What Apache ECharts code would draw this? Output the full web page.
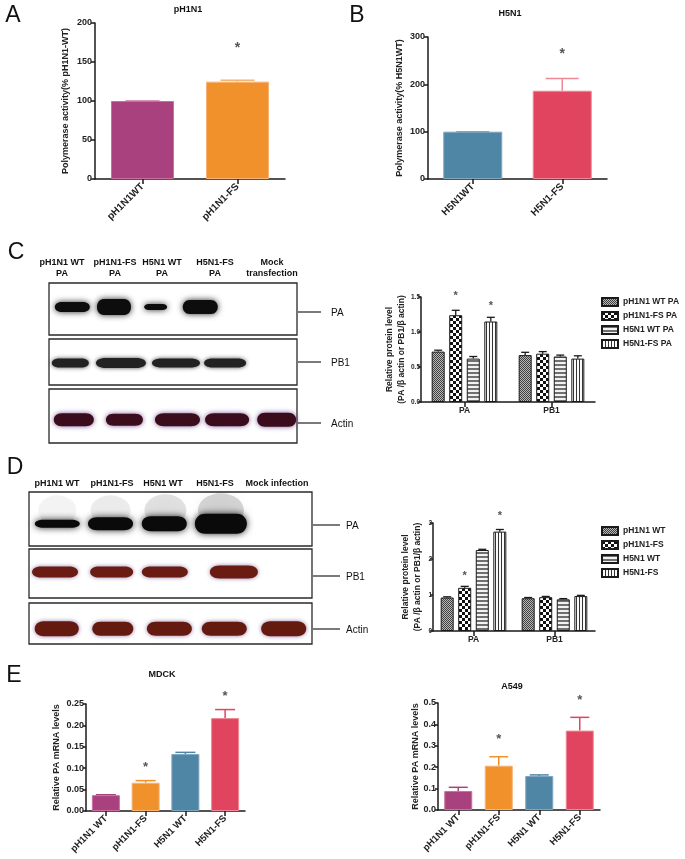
<!DOCTYPE html>
<html><head><meta charset="utf-8">
<script src="https://cdn.jsdelivr.net/npm/echarts@6/dist/echarts.min.js"></script>
<style>html,body{margin:0;padding:0;background:#fff}#c{width:685px;height:859px}</style>
</head><body><div id="c"></div><script>
// ================= DATA =================
// Panel A
const catsA = ['pH1N1WT', 'pH1N1-FS'];
const valsA = [100, 124.8];
const errA = [100, 126.5];
const starA = [null, 172];
const ticksA = [0, 50, 100, 150, 200];
// Panel B
const catsB = ['H5N1WT', 'H5N1-FS'];
const valsB = [100, 186.5];
const errB = [100, 212.5];
const starB = [null, 272];
const ticksB = [0, 100, 200, 300];
// Panel C (densitometry)
const groupCats = ['PA', 'PB1'];
const namesC = ['pH1N1 WT PA', 'pH1N1-FS PA', 'H5N1 WT PA', 'H5N1-FS PA'];
const valsC = [[0.72, 0.67], [1.24, 0.69], [0.62, 0.65], [1.15, 0.62]];
const errC = [[0.74, 0.71], [1.31, 0.72], [0.65, 0.67], [1.21, 0.66]];
const starC = [[null, null], [1.56, null], [null, null], [1.41, null]];
const ticksC = [0, 0.5, 1.0, 1.5];
// Panel D (densitometry)
const namesD = ['pH1N1 WT', 'pH1N1-FS', 'H5N1 WT', 'H5N1-FS'];
const valsD = [[0.93, 0.91], [1.20, 0.94], [2.25, 0.88], [2.76, 0.97]];
const errD = [[0.95, 0.93], [1.24, 0.96], [2.27, 0.90], [2.82, 0.99]];
const starD = [[null, null], [1.61, null], [null, null], [3.28, null]];
const ticksD = [0, 1, 2, 3];
// Panel E
const catsE = ['pH1N1 WT', 'pH1N1-FS', 'H5N1 WT', 'H5N1-FS'];
const valsMDCK = [0.037, 0.066, 0.133, 0.217];
const errMDCK = [0.038, 0.071, 0.137, 0.237];
const starMDCK = [null, 0.110, null, 0.276];
const ticksMDCK = [0, 0.05, 0.10, 0.15, 0.20, 0.25];
const valsA549 = [0.089, 0.207, 0.159, 0.371];
const errA549 = [0.106, 0.249, 0.164, 0.433];
const starA549 = [null, 0.346, null, 0.528];
const ticksA549 = [0, 0.1, 0.2, 0.3, 0.4, 0.5];
// Western blots: lane headers, row names, bands [lane position, band width, band thickness]
const lanesC = [['pH1N1 WT', 'PA'], ['pH1N1-FS', 'PA'], ['H5N1 WT', 'PA'], ['H5N1-FS', 'PA'], ['Mock', 'transfection']];
const lanesD = ['pH1N1 WT', 'pH1N1-FS', 'H5N1 WT', 'H5N1-FS', 'Mock infection'];
const rowsBlot = ['PA', 'PB1', 'Actin'];
const bandsC_PA = [[0.47, 35, 10], [1.31, 34, 16], [2.15, 23, 6], [3.05, 35, 14]];
const bandsC_PB1 = [[0.43, 37, 9], [1.45, 50, 10], [2.56, 48, 9], [3.55, 42, 9]];
const bandsC_Actin = [[0.50, 40, 13], [1.52, 37, 12], [2.59, 45, 13], [3.59, 44, 13], [4.59, 39, 14]];
const bandsD_PA = [[0.50, 45, 8], [1.44, 45, 13], [2.39, 45, 15], [3.39, 52, 20]];
const smearD_PA = [[0.50, 38, 30, 0.07], [1.44, 40, 30, 0.10], [2.41, 42, 32, 0.16], [3.39, 46, 34, 0.22]];
const bandsD_PB1 = [[0.46, 46, 11], [1.46, 43, 11], [2.40, 46, 11], [3.62, 48, 13]];
const bandsD_Actin = [[0.49, 44, 15], [1.48, 41, 14], [2.48, 45, 14], [3.45, 45, 14], [4.50, 45, 15]];

// ================= STYLE =================
const F = '"Liberation Sans", Arial, Helvetica, sans-serif';
const INK = '#1a1a1a';
const PURPLE = '#A8417E', ORANGE = '#F0912C', BLUE = '#4F86A6', RED = '#E1445E';
const PURPLE_L = '#C8709E', ORANGE_L = '#F6B374', BLUE_L = '#7FA6BE', RED_L = '#EE8796';

function makePattern(kind) {
  const c = document.createElement('canvas');
  let ctx;
  if (kind === 'fine') {
    c.width = c.height = 2; ctx = c.getContext('2d');
    ctx.fillStyle = '#b8b8b8'; ctx.fillRect(0, 0, 2, 2);
    ctx.fillStyle = '#404040'; ctx.fillRect(0, 0, 1, 1); ctx.fillRect(1, 1, 1, 1);
  } else if (kind === 'checker') {
    c.width = c.height = 6; ctx = c.getContext('2d');
    ctx.fillStyle = '#ffffff'; ctx.fillRect(0, 0, 6, 6);
    ctx.fillStyle = '#111111'; ctx.fillRect(0, 0, 3, 3); ctx.fillRect(3, 3, 3, 3);
  } else if (kind === 'h') {
    c.width = 1; c.height = 4; ctx = c.getContext('2d');
    ctx.fillStyle = '#f2f2f2'; ctx.fillRect(0, 0, 1, 4);
    ctx.fillStyle = '#707070'; ctx.fillRect(0, 0, 1, 2);
  } else {
    c.width = 3; c.height = 1; ctx = c.getContext('2d');
    ctx.fillStyle = '#fafafa'; ctx.fillRect(0, 0, 3, 1);
    ctx.fillStyle = '#333333'; ctx.fillRect(0, 0, 1, 1);
  }
  return { image: c, repeat: 'repeat' };
}
const PATS = [makePattern('fine'), makePattern('checker'), makePattern('h'), makePattern('v')];

function gridBox(l, t, w, h, extra) {
  return Object.assign({ left: l, top: t, width: w, height: h, containLabel: false, outerBoundsMode: 'none' }, extra || {});
}
const axisLine = { show: true, lineStyle: { color: INK, width: 1.5 } };
function yAx(gi, ticks, digits, name, nameGap, fs, nfs, nameLH, tickLen, margin) {
  return {
    type: 'value', gridIndex: gi, min: ticks[0], max: ticks[ticks.length - 1], interval: ticks[1] - ticks[0],
    axisLine, axisTick: { show: true, length: tickLen || 4, lineStyle: { color: INK, width: 1.5 } },
    splitLine: { show: false },
    axisLabel: { fontFamily: F, fontWeight: 'bold', fontSize: fs, color: '#222', margin: margin == null ? 3 : margin, formatter: v => v.toFixed(digits) },
    name, nameLocation: 'middle', nameRotate: 90, nameGap, nameMoveOverlap: false,
    nameTextStyle: { fontFamily: F, fontWeight: 'bold', fontSize: nfs, color: '#222', lineHeight: nameLH || nfs + 2 }
  };
}
function xCat(gi, cats, rotate, fs, margin) {
  return {
    type: 'category', gridIndex: gi, data: cats, axisLine,
    axisTick: { show: true, alignWithLabel: true, length: 5, lineStyle: { color: INK, width: 1.5 } },
    axisLabel: { rotate, interval: 0, fontFamily: F, fontWeight: 'bold', fontSize: fs, color: '#222', margin }
  };
}
function hiddenX(gi) { return { type: 'value', gridIndex: gi, min: 0, max: 5, show: false }; }
function hiddenY(gi) { return { type: 'value', gridIndex: gi, min: 0, max: 1, show: false }; }

function simpleBars(ax, vals, colors, borders, bw) {
  return {
    type: 'bar', xAxisIndex: ax, yAxisIndex: ax, barWidth: bw, silent: true,
    data: vals.map((v, i) => ({ value: v, itemStyle: { color: colors[i], borderColor: borders[i], borderWidth: 1 } }))
  };
}
function simpleErr(ax, vals, errs, colors, capW) {
  return {
    type: 'custom', xAxisIndex: ax, yAxisIndex: ax, clip: false, silent: true,
    encode: { x: 0, y: [1, 2] },
    data: vals.map((v, i) => ({ value: [i, v, errs[i]], itemStyle: { color: colors[i] } })),
    renderItem: (p, api) => {
      const b = api.coord([api.value(0), api.value(1)]), t = api.coord([api.value(0), api.value(2)]);
      const c = api.visual('color');
      return { type: 'group', children: [
        { type: 'line', shape: { x1: b[0], y1: b[1], x2: t[0], y2: t[1] }, style: { stroke: c, lineWidth: 1.5 } },
        { type: 'line', shape: { x1: t[0] - capW / 2, y1: t[1], x2: t[0] + capW / 2, y2: t[1] }, style: { stroke: c, lineWidth: 1.5 } }
      ] };
    }
  };
}
function starText(x, y, fs) {
  return { type: 'text', x, y: y + fs * 0.25, style: { text: '*', fill: '#555', font: 'bold ' + fs + 'px ' + F, textAlign: 'center', textVerticalAlign: 'middle' } };
}
function simpleStars(ax, stars, fs) {
  return {
    type: 'custom', xAxisIndex: ax, yAxisIndex: ax, clip: false, silent: true, encode: { x: 0, y: 1 },
    data: stars.map((s, i) => [i, s]).filter(d => d[1] != null),
    renderItem: (p, api) => { const c = api.coord([api.value(0), api.value(1)]); return starText(c[0], c[1], fs); }
  };
}
const GBW = 13, GGAP = '35%';
function groupBars(ax, names, vals) {
  return names.map((n, k) => ({
    type: 'bar', name: n, xAxisIndex: ax, yAxisIndex: ax, barWidth: GBW, barGap: GGAP, silent: true,
    data: vals[k], itemStyle: { color: PATS[k], borderColor: INK, borderWidth: 1 }
  }));
}
function groupErr(ax, vals, errs) {
  const data = [];
  vals.forEach((row, k) => row.forEach((v, c) => data.push([c, k, v, errs[k][c]])));
  return {
    type: 'custom', xAxisIndex: ax, yAxisIndex: ax, clip: false, silent: true, encode: { x: 0, y: [2, 3] }, data,
    renderItem: (p, api) => {
      const lay = api.barLayout({ count: 4, barWidth: GBW, barGap: GGAP });
      const off = lay[api.value(1)].offsetCenter;
      const b = api.coord([api.value(0), api.value(2)]), t = api.coord([api.value(0), api.value(3)]);
      const x = b[0] + off;
      return { type: 'group', children: [
        { type: 'line', shape: { x1: x, y1: b[1], x2: x, y2: t[1] }, style: { stroke: INK, lineWidth: 1.3 } },
        { type: 'line', shape: { x1: x - 4, y1: t[1], x2: x + 4, y2: t[1] }, style: { stroke: INK, lineWidth: 1.3 } }
      ] };
    }
  };
}
function groupStars(ax, stars) {
  const data = [];
  stars.forEach((row, k) => row.forEach((s, c) => { if (s != null) data.push([c, k, s]); }));
  return {
    type: 'custom', xAxisIndex: ax, yAxisIndex: ax, clip: false, silent: true, encode: { x: 0, y: 2 }, data,
    renderItem: (p, api) => {
      const lay = api.barLayout({ count: 4, barWidth: GBW, barGap: GGAP });
      const c = api.coord([api.value(0), api.value(2)]);
      return starText(c[0] + lay[api.value(1)].offsetCenter, c[1], 11);
    }
  };
}
const CAPSULE = 'path://M20,0L80,0C107,0 107,40 80,40L20,40C-7,40 -7,0 20,0Z';
function bandSeries(ax, bands, yLevel, color, glow, blur) {
  return {
    type: 'scatter', xAxisIndex: ax, yAxisIndex: ax, symbol: CAPSULE, silent: true,
    data: bands.map(b => [b[0], yLevel, b[1], b[2]]),
    symbolSize: v => [v[2], v[3]],
    itemStyle: { color, shadowBlur: blur, shadowColor: glow, opacity: 1 }
  };
}
function smearSeries(ax, bands, yLevel) {
  return {
    type: 'scatter', xAxisIndex: ax, yAxisIndex: ax, symbol: 'circle', silent: true,
    data: bands.map(b => ({ value: [b[0], yLevel, b[1], b[2]], itemStyle: { color: 'rgba(30,30,30,' + b[3] + ')', shadowColor: 'rgba(30,30,30,' + b[3] + ')' } })),
    symbolSize: v => [v[2], v[3]],
    itemStyle: { shadowBlur: 16 }
  };
}

// ================= LAYOUT =================
const blotBorder = { show: true, borderColor: '#2a2a2a', borderWidth: 1.3, backgroundColor: '#fff' };
const grids = [
  gridBox(95, 23, 190, 156),            // 0 A
  gridBox(428, 37, 179, 142),           // 1 B
  gridBox(421, 297, 174, 105),          // 2 C chart
  gridBox(433, 523, 162, 108),          // 3 D chart
  gridBox(86, 704, 159, 107),           // 4 MDCK
  gridBox(438, 703, 162, 107),          // 5 A549
  gridBox(49, 283, 248, 52, blotBorder),   // 6 C PA
  gridBox(49, 339, 248, 46, blotBorder),   // 7 C PB1
  gridBox(49, 389, 248, 54, blotBorder),   // 8 C Actin
  gridBox(29, 492, 283, 54, blotBorder),   // 9 D PA
  gridBox(29, 549, 283, 49, blotBorder),   // 10 D PB1
  gridBox(29, 603, 283, 41, blotBorder)    // 11 D Actin
];
const xAxes = [
  xCat(0, catsA, 45, 10, 6),
  xCat(1, catsB, 45, 10, 6),
  xCat(2, groupCats, 0, 8.5, 4),
  xCat(3, groupCats, 0, 8.5, 4),
  xCat(4, catsE, 45, 9.5, 6),
  xCat(5, catsE, 45, 9.5, 6)
];
const yAxes = [
  yAx(0, ticksA, 0, 'Polymerase activity(% pH1N1-WT)', 24, 9, 9),
  yAx(1, ticksB, 0, 'Polymerase activity(% H5N1WT)', 23, 9, 9),
  yAx(2, ticksC, 1, 'Relative protein level\n(PA /β actin or PB1/β actin)', 13, 6.5, 8.5, 12, 3, 1),
  yAx(3, ticksD, 0, 'Relative protein level\n(PA /β actin or PB1/β actin)', 9, 6.5, 8.5, 12, 3, 1),
  yAx(4, ticksMDCK, 2, 'Relative PA mRNA levels', 24, 9, 9, null, 3, 2),
  yAx(5, ticksA549, 1, 'Relative PA mRNA levels', 17, 9, 9, null, 3, 2)
];
for (let g = 6; g < 12; g++) { xAxes.push(hiddenX(g)); yAxes.push(hiddenY(g)); }

const colsE = [PURPLE, ORANGE, BLUE, RED];
const bordE = [PURPLE_L, ORANGE_L, BLUE_L, RED_L];
const series = [
  simpleBars(0, valsA, [PURPLE, ORANGE], [PURPLE_L, ORANGE_L], 63),
  simpleErr(0, valsA, errA, [PURPLE_L, ORANGE_L], 34),
  simpleStars(0, starA, 14),
  simpleBars(1, valsB, [BLUE, RED], [BLUE_L, RED_L], 59),
  simpleErr(1, valsB, errB, [BLUE_L, RED_L], 33),
  simpleStars(1, starB, 14),
  ...groupBars(2, namesC, valsC),
  groupErr(2, valsC, errC),
  groupStars(2, starC),
  ...groupBars(3, namesD, valsD),
  groupErr(3, valsD, errD),
  groupStars(3, starD),
  simpleBars(4, valsMDCK, colsE, bordE, 28),
  simpleErr(4, valsMDCK, errMDCK, colsE, 20),
  simpleStars(4, starMDCK, 13),
  simpleBars(5, valsA549, colsE, bordE, 28),
  simpleErr(5, valsA549, errA549, colsE, 19),
  simpleStars(5, starA549, 13),
  bandSeries(6, bandsC_PA, 0.54, '#0d0d0d', 'rgba(0,0,0,0.85)', 6),
  bandSeries(7, bandsC_PB1, 0.48, '#222222', 'rgba(30,30,30,0.8)', 4),
  bandSeries(8, bandsC_Actin, 0.43, '#3a0c1c', 'rgba(110,70,140,0.9)', 5),
  smearSeries(9, smearD_PA, 0.66),
  bandSeries(9, bandsD_PA, 0.41, '#0a0a0a', 'rgba(0,0,0,0.85)', 7),
  bandSeries(10, bandsD_PB1, 0.53, '#6a1c12', 'rgba(120,90,150,0.8)', 4),
  bandSeries(11, bandsD_Actin, 0.37, '#651a10', 'rgba(120,80,140,0.8)', 4)
];

// ================= TEXT / ANNOTATIONS =================
function txt(x, y, text, font, align) {
  return { type: 'text', x, y, silent: true, style: { text, font, fill: '#111', textAlign: align || 'center', textVerticalAlign: 'middle' } };
}
function hline(x1, x2, y) {
  return { type: 'line', silent: true, shape: { x1, y1: y, x2, y2: y }, style: { stroke: '#222', lineWidth: 1.2 } };
}
const letterFont = '23px ' + F;
const titleFont = 'bold 9px ' + F;
const headFont = 'bold 9px ' + F;
const rowFont = '10px ' + F;
const graphic = [
  txt(13, 16, 'A', letterFont), txt(357, 16, 'B', letterFont), txt(16, 253, 'C', letterFont),
  txt(15, 468, 'D', letterFont), txt(14, 676, 'E', letterFont),
  txt(188, 10, 'pH1N1', titleFont), txt(510, 14, 'H5N1', titleFont),
  txt(162, 675, 'MDCK', titleFont), txt(512, 687, 'A549', titleFont)
];
const headXC = [62, 115, 162, 215, 272];
lanesC.forEach((l, i) => { graphic.push(txt(headXC[i], 263, l[0], headFont)); graphic.push(txt(headXC[i], 274, l[1], headFont)); });
const headXD = [57, 112, 163, 215, 277];
lanesD.forEach((l, i) => graphic.push(txt(headXD[i], 484, l, headFont)));
const rowYC = [312, 362, 423], rowYD = [525, 576, 629];
rowsBlot.forEach((r, i) => {
  graphic.push(hline(298, 321, rowYC[i])); graphic.push(txt(331, rowYC[i] + 1, r, rowFont, 'left'));
  graphic.push(hline(313, 340, rowYD[i])); graphic.push(txt(346, rowYD[i] + 1, r, rowFont, 'left'));
});

const legendStyle = { orient: 'vertical', itemWidth: 16, itemHeight: 8, itemGap: 4, icon: 'rect',
  textStyle: { fontFamily: F, fontWeight: 'bold', fontSize: 8.5, color: '#222', padding: [0, 0, 0, 0] }, selectedMode: false, padding: 0 };

const chart = echarts.init(document.getElementById('c'), null, { renderer: 'canvas' });
chart.setOption({
  animation: false,
  backgroundColor: '#fff',
  grid: grids,
  xAxis: xAxes,
  yAxis: yAxes,
  legend: [
    Object.assign({ data: namesC, left: 601, top: 297 }, legendStyle),
    Object.assign({ data: namesD, left: 601, top: 526 }, legendStyle)
  ],
  series,
  graphic
});
</script></body></html>
